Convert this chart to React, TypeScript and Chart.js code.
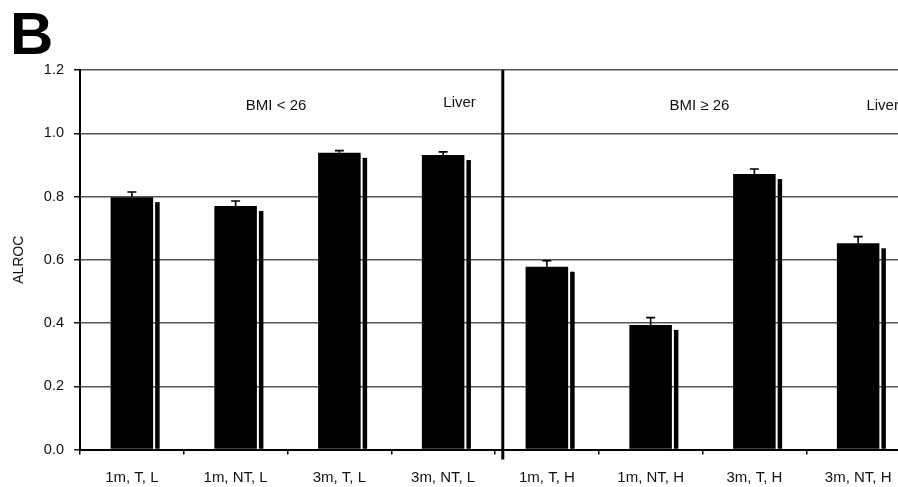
import React, { useEffect, useRef } from "react";
import { Chart, registerables } from "chart.js";

Chart.register(...registerables);

const categories = ["1m, T, L", "1m, NT, L", "3m, T, L", "3m, NT, L", "1m, T, H", "1m, NT, H", "3m, T, H", "3m, NT, H"];
const values = [0.798, 0.770, 0.938, 0.931, 0.578, 0.394, 0.871, 0.652];
const errors = [0.016, 0.016, 0.007, 0.010, 0.019, 0.023, 0.016, 0.021];
const yTicks = [0, 0.2, 0.4, 0.6, 0.8, 1.0, 1.2];
const groupLabels = ["BMI < 26", "Liver", "BMI \u2265 26", "Liver"];
const panelLetter = "B";
const yTitle = "ALROC";

// annotation anchors in data units (category index, value)
const groupLabelAt = [
  { i: 1.39, v: 1.088, align: "center" },
  { i: 3.315, v: 1.097, align: "right" },
  { i: 5.47, v: 1.088, align: "center" },
  { i: 7.08, v: 1.088, align: "left" },
];
const dividerAt = 3.575;

const FONT = "'Liberation Sans', Arial, Helvetica, sans-serif";

const decorPlugin = {
  id: "decor",
  beforeDatasetsDraw(chart: any) {
    const ctx = chart.ctx;
    const meta = chart.getDatasetMeta(0);
    ctx.save();
    ctx.fillStyle = "#000";
    meta.data.forEach((bar: any) => {
      const p = bar.getProps(["x", "y", "base", "width"], true);
      const right = p.x + p.width / 2;
      ctx.fillRect(right + 2, p.y + 5, 4.5, p.base - p.y - 5);
    });
    ctx.restore();
  },
  afterDatasetsDraw(chart: any) {
    const ctx = chart.ctx;
    const yScale = chart.scales.y;
    const meta = chart.getDatasetMeta(0);
    ctx.save();
    ctx.strokeStyle = "#000";
    ctx.lineWidth = 1.6;
    meta.data.forEach((bar: any, i: number) => {
      const p = bar.getProps(["x", "y"], true);
      const top = yScale.getPixelForValue(values[i] + errors[i]);
      ctx.beginPath();
      ctx.moveTo(p.x, p.y);
      ctx.lineTo(p.x, top);
      ctx.moveTo(p.x - 4.5, top);
      ctx.lineTo(p.x + 4.5, top);
      ctx.stroke();
    });
    ctx.restore();
  },
  afterDraw(chart: any) {
    const ctx = chart.ctx;
    const xScale = chart.scales.x;
    const yScale = chart.scales.y;
    const area = chart.chartArea;
    ctx.save();
    // divider
    const dx = xScale.getPixelForValue(dividerAt);
    ctx.strokeStyle = "#000";
    ctx.lineWidth = 3;
    ctx.beginPath();
    ctx.moveTo(dx, area.top);
    ctx.lineTo(dx, area.bottom + 10);
    ctx.stroke();
    // group labels
    ctx.fillStyle = "#111";
    ctx.font = `15px ${FONT}`;
    ctx.textBaseline = "middle";
    groupLabels.forEach((t, k) => {
      const a = groupLabelAt[k];
      ctx.textAlign = a.align as CanvasTextAlign;
      ctx.fillText(t, xScale.getPixelForValue(a.i), yScale.getPixelForValue(a.v));
    });
    // panel letter
    ctx.font = `bold 60px ${FONT}`;
    ctx.textAlign = "left";
    ctx.textBaseline = "alphabetic";
    ctx.fillStyle = "#000";
    ctx.fillText(panelLetter, 10, 54);
    ctx.restore();
  },
};

export default function App() {
  const ref = useRef<HTMLCanvasElement>(null);
  useEffect(() => {
    if (!ref.current) return;
    const chart = new Chart(ref.current, {
      type: "bar",
      data: {
        labels: categories,
        datasets: [
          {
            data: values,
            backgroundColor: "#000",
            borderWidth: 0,
            barPercentage: 0.41,
            categoryPercentage: 1,
          },
        ],
      },
      options: {
        responsive: false,
        animation: false,
        layout: { padding: { top: 70, right: 2, left: 0, bottom: 0 } },
        plugins: { legend: { display: false }, tooltip: { enabled: false } },
        scales: {
          x: {
            grid: { display: true, drawOnChartArea: false, drawTicks: true, tickLength: 5, color: "#000", lineWidth: 1.5, offset: true },
            border: { display: true, color: "#000", width: 2 },
            ticks: { color: "#111", font: { family: FONT, size: 15 }, padding: 14, maxRotation: 0, autoSkip: false },
            afterFit: (s: any) => { s.height = 37.5; },
          },
          y: {
            min: 0,
            max: 1.2,
            afterBuildTicks: (s: any) => { s.ticks = yTicks.map((v) => ({ value: v })); },
            grid: { color: "#555", lineWidth: 1.5, tickLength: 6, tickColor: "#111" },
            border: { display: true, color: "#000", width: 2 },
            ticks: { color: "#111", font: { family: FONT, size: 14.5 }, padding: 10, callback: (v: any) => Number(v).toFixed(1) },
            title: { display: true, text: yTitle, color: "#111", font: { family: FONT, size: 14 }, padding: { top: 11, bottom: 0 } },
            afterFit: (s: any) => { s.width = 80; },
          },
        },
      },
      plugins: [decorPlugin],
    });
    return () => chart.destroy();
  }, []);
  return (
    <div style={{ position: "fixed", left: 0, top: 0, width: 898, height: 487, overflow: "hidden", background: "#fff" }}>
      <canvas ref={ref} width={912} height={487} style={{ width: 912, height: 487, display: "block" }} />
    </div>
  );
}
